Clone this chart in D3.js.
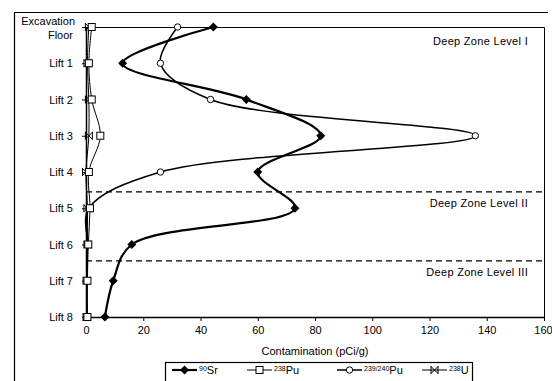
<!DOCTYPE html>
<html>
<head>
<meta charset="utf-8">
<script src="https://cdn.jsdelivr.net/npm/d3@7"></script>
<style>
body{margin:0;background:#fff;}
svg{display:block;font-family:"Liberation Sans",Arial,sans-serif;}
</style>
</head>
<body>
<svg id="chart" width="552" height="381"></svg>
<script>
// depth intervals, top to bottom
var depths = ["Excavation Floor","Lift 1","Lift 2","Lift 3","Lift 4","Lift 5","Lift 6","Lift 7","Lift 8"];
// contamination per depth (pCi/g)
var sr90  = [44.5, 12.8, 56, 82, 60, 73, 16, 9.5, 6.6];
var pu238 = [2, 1, 2, 5, 1, 1.4, 0.8, 0.5, 0.5];
var pu239 = [32, 26, 43.5, 136, 26, 1, 0.5, 0.3, 0.3];
var u238  = [1, 0.5, 1, 1, 0, 0.5, 0.5, 0.2, 0.2];
var xTicks = [0,20,40,60,80,100,120,140,160];
// zone boundaries (in lift index) and labels
var zoneBreaks = [4.55, 6.45];
var zoneLabels = ["Deep Zone Level I","Deep Zone Level II","Deep Zone Level III"];

var svg = d3.select("#chart");
var mLeft = 86, mRight = 544, mTop = 27, mBottom = 317;

var x = d3.scaleLinear().domain([0,160]).range([mLeft,mRight]);
var y = d3.scaleLinear().domain([0,depths.length-1]).range([mTop,mBottom]);

// outer frame
svg.append("path")
  .attr("d","M14.5,381 V12.5 H548")
  .attr("fill","none").attr("stroke","#000").attr("stroke-width",1.2);

// plot border (top/right)
svg.append("path")
  .attr("d",`M${mLeft},${mTop+0.5} H${mRight+0.5} V${mBottom}`)
  .attr("fill","none").attr("stroke","#000").attr("stroke-width",1);

// x axis
var xAxis = d3.axisBottom(x).tickValues(xTicks).tickSize(4).tickSizeOuter(0);
var gx = svg.append("g").attr("transform",`translate(0,${mBottom})`).call(xAxis);
gx.select(".domain").attr("stroke-width",1.5);
gx.selectAll("text").attr("font-size",11).attr("font-family","Liberation Sans, Arial").attr("dy","0.9em");
gx.selectAll(".tick").filter(d=>d===160).select("text").attr("dx","-1");

// y axis
var yAxis = d3.axisLeft(y).tickValues(d3.range(depths.length)).tickSize(4).tickSizeOuter(0).tickFormat(i=>depths[i]);
var gy = svg.append("g").attr("transform",`translate(${mLeft},0)`).call(yAxis);
gy.select(".domain").attr("stroke-width",1.5);
gy.selectAll("text").attr("font-size",11).attr("font-family","Liberation Sans, Arial").attr("x",-13);
gy.selectAll(".tick").filter(d=>d===0).select("text").each(function(){
  var t = d3.select(this), parts = depths[0].split(" ");
  t.text(null).attr("dy",null);
  t.append("tspan").attr("x",-11).attr("y",-3).text(parts[0]);
  t.append("tspan").attr("x",-13).attr("y",11).text(parts[1]);
});

// axis title
svg.append("text").attr("x",(mLeft+mRight)/2).attr("y",355)
  .attr("text-anchor","middle").attr("font-size",11).text("Contamination (pCi/g)");

// zone boundaries
svg.selectAll(".zone").data(zoneBreaks).enter().append("line")
  .attr("x1",mLeft).attr("x2",mRight)
  .attr("y1",d=>y(d)).attr("y2",d=>y(d))
  .attr("stroke","#000").attr("stroke-width",1.2).attr("stroke-dasharray","6,4");

var zoneY = [mTop+18].concat(zoneBreaks.map(b=>y(b)+15));
svg.selectAll(".zlab").data(zoneLabels).enter().append("text")
  .attr("x",528).attr("y",(d,i)=>zoneY[i])
  .attr("text-anchor","end").attr("font-size",11).attr("letter-spacing","0.3px")
  .text(d=>d);

// series
var series = [
  {name:"90Sr", sup:"90", el:"Sr", values:sr90, width:2.2, marker:"diamond"},
  {name:"238Pu", sup:"238", el:"Pu", values:pu238, width:1, marker:"square"},
  {name:"239/240Pu", sup:"239/240", el:"Pu", values:pu239, width:1.5, marker:"circle"},
  {name:"238U", sup:"238", el:"U", values:u238, width:1, marker:"cross"}
];

var line = d3.line().x(d=>x(d.v)).y(d=>y(d.i)).curve(d3.curveCatmullRom.alpha(0.5));

function drawMarker(g,type,cx,cy){
  if(type==="diamond"){
    g.append("path").attr("d",`M${cx},${cy-4.5}L${cx+4.5},${cy}L${cx},${cy+4.5}L${cx-4.5},${cy}Z`).attr("fill","#000");
  } else if(type==="square"){
    g.append("rect").attr("x",cx-3.5).attr("y",cy-3.5).attr("width",7).attr("height",7)
      .attr("fill","#fff").attr("stroke","#000").attr("stroke-width",1);
  } else if(type==="circle"){
    g.append("circle").attr("cx",cx).attr("cy",cy).attr("r",3.2)
      .attr("fill","#fff").attr("stroke","#000").attr("stroke-width",1);
  } else {
    g.append("path").attr("d",`M${cx-3.5},${cy-3.5}L${cx+3.5},${cy+3.5}M${cx-3.5},${cy+3.5}L${cx+3.5},${cy-3.5}M${cx-3.5},${cy-4}V${cy+4}M${cx+3.5},${cy-4}V${cy+4}`)
      .attr("fill","none").attr("stroke","#000").attr("stroke-width",1);
  }
}

series.forEach(s=>{
  var pts = s.values.map((v,i)=>({v:v,i:i}));
  svg.append("path").datum(pts).attr("d",line)
    .attr("fill","none").attr("stroke","#000").attr("stroke-width",s.width);
});
series.slice().reverse().forEach(s=>{
  var g = svg.append("g");
  s.values.forEach((v,i)=>drawMarker(g,s.marker,x(v),y(i)));
});

// legend
var legend = svg.append("g");
legend.append("rect").attr("x",165.5).attr("y",362.5).attr("width",307).attr("height",30)
  .attr("fill","#fff").attr("stroke","#000").attr("stroke-width",1.2);
var legX = [172, 247, 337, 422];
series.forEach((s,i)=>{
  var g = legend.append("g").attr("transform",`translate(${legX[i]},370)`);
  g.append("line").attr("x1",0).attr("x2",25).attr("y1",0).attr("y2",0)
    .attr("stroke","#000").attr("stroke-width",s.width);
  drawMarker(g,s.marker,12.5,0);
  var t = g.append("text").attr("x",27).attr("y",4).attr("font-size",11);
  t.append("tspan").attr("font-size",7).attr("dy","-3").text(s.sup);
  t.append("tspan").attr("dy","3").text(s.el);
});
</script>
</body>
</html>
